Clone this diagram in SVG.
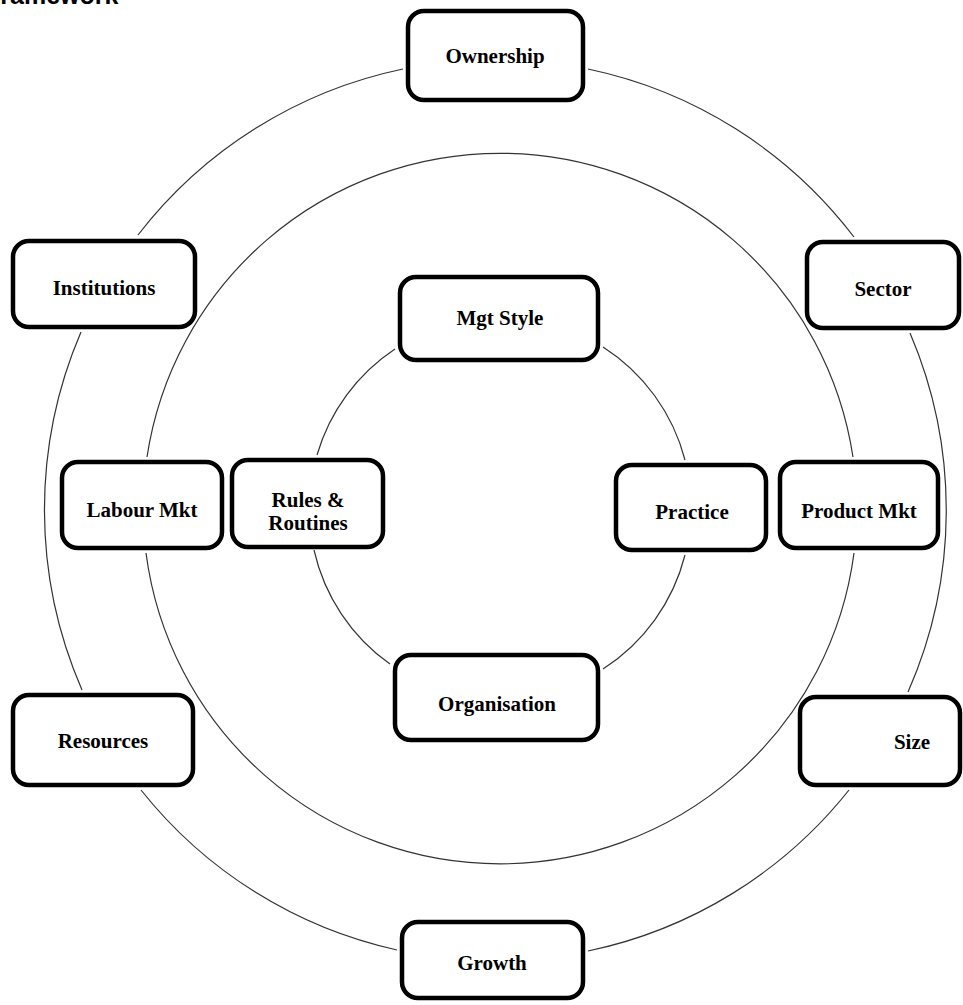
<svg xmlns="http://www.w3.org/2000/svg" width="963" height="1005" viewBox="0 0 963 1005">
<style>
.box{fill:#fff;stroke:#000;stroke-width:4.5}
.lbl{font-family:"Liberation Serif","Times New Roman",serif;font-size:21px;font-weight:bold;fill:#000;text-anchor:middle}
.arc{fill:none;stroke:#333;stroke-width:1.2}
.title{font-family:"Liberation Sans",Arial,sans-serif;font-size:25px;font-weight:bold;fill:#000}
</style>
<rect width="963" height="1005" fill="#fff"/>
<text class="title" x="-15" y="4">Framework</text>
<g id="connectors">
<path class="arc" d="M588,69 A451,451 0 0 1 854,237"/>
<path class="arc" d="M910,333 A451,451 0 0 1 908,692"/>
<path class="arc" d="M849,790 A451,451 0 0 1 588,951"/>
<path class="arc" d="M397,950 A451,451 0 0 1 141,790"/>
<path class="arc" d="M82,690 A451,451 0 0 1 81,332"/>
<path class="arc" d="M138,235 A451,451 0 0 1 403,69"/>
<path class="arc" d="M147,457 A357,357 0 0 1 853,457"/>
<path class="arc" d="M854,553 A357,357 0 0 1 146,553"/>
<path class="arc" d="M603,347 A191,191 0 0 1 685,460"/>
<path class="arc" d="M685,555 A191,191 0 0 1 603,669"/>
<path class="arc" d="M390,664 A191,191 0 0 1 314,550"/>
<path class="arc" d="M317,455 A191,191 0 0 1 395,349"/>
</g>
<g id="ownership"><rect class="box" x="408" y="11" width="175" height="89" rx="16"/><text class="lbl" x="495" y="63">Ownership</text></g>
<g id="institutions"><rect class="box" x="13" y="241" width="182" height="86" rx="16"/><text class="lbl" x="104" y="295">Institutions</text></g>
<g id="sector"><rect class="box" x="807" y="242" width="152" height="86" rx="16"/><text class="lbl" x="883" y="296">Sector</text></g>
<g id="mgt-style"><rect class="box" x="400" y="277" width="198" height="83" rx="16"/><text class="lbl" x="500" y="325">Mgt Style</text></g>
<g id="labour-mkt"><rect class="box" x="62" y="462" width="160" height="86" rx="16"/><text class="lbl" x="142" y="517">Labour Mkt</text></g>
<g id="rules-routines"><rect class="box" x="232" y="460" width="151" height="87" rx="16"/><text class="lbl" x="308" y="507">Rules &amp;</text><text class="lbl" x="308" y="530">Routines</text></g>
<g id="practice"><rect class="box" x="616" y="465" width="150" height="85" rx="16"/><text class="lbl" x="692" y="519">Practice</text></g>
<g id="product-mkt"><rect class="box" x="780" y="462" width="158" height="86" rx="16"/><text class="lbl" x="859" y="518">Product Mkt</text></g>
<g id="resources"><rect class="box" x="13" y="695" width="180" height="90" rx="16"/><text class="lbl" x="103" y="748">Resources</text></g>
<g id="size"><rect class="box" x="800" y="697" width="160" height="88" rx="16"/><text class="lbl" x="912" y="749">Size</text></g>
<g id="organisation"><rect class="box" x="395" y="655" width="203" height="85" rx="16"/><text class="lbl" x="497" y="711">Organisation</text></g>
<g id="growth"><rect class="box" x="402" y="922" width="181" height="76" rx="16"/><text class="lbl" x="492" y="970">Growth</text></g>
</svg>
